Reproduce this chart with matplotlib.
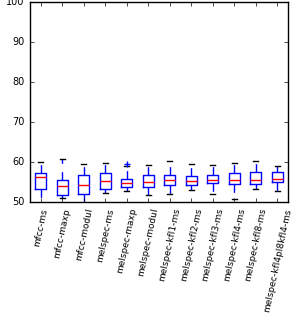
import matplotlib
matplotlib.use("Agg")
import matplotlib.pyplot as plt

plt.style.use("classic")

labels = ["mfcc-ms", "mfcc-maxp", "mfcc-modul", "melspec-ms", "melspec-maxp",
          "melspec-modul", "melspec-kfl1-ms", "melspec-kfl2-ms", "melspec-kfl3-ms",
          "melspec-kfl4-ms", "melspec-kfl8-ms", "melspec-kfl4pl8kfl4-ms"]

# box statistics (AUC, %)
whislo = [48.5, 51.0, 48.5, 52.2, 52.6, 51.7, 51.9, 53.0, 51.9, 50.8, 53.2, 52.7]
q1 = [53.2, 51.8, 52.0, 53.2, 53.7, 53.7, 54.2, 54.2, 54.6, 54.4, 54.4, 55.0]
med = [56.2, 53.9, 54.2, 55.2, 54.7, 54.9, 55.5, 55.2, 55.4, 55.4, 55.4, 55.8]
q3 = [57.3, 55.4, 56.8, 57.3, 55.8, 56.8, 56.8, 56.5, 56.7, 57.3, 57.6, 57.5]
whishi = [60.0, 60.8, 59.5, 59.7, 59.0, 59.3, 60.3, 59.5, 59.3, 59.7, 60.2, 59.1]
fliers = [[], [], [], [], [59.6], [], [], [], [], [], [], []]

stats = []
for i in range(len(labels)):
    stats.append({"label": labels[i], "whislo": whislo[i], "q1": q1[i], "med": med[i],
                  "q3": q3[i], "whishi": whishi[i], "fliers": fliers[i]})

fig = plt.figure(figsize=(2.93, 3.13), dpi=100, facecolor="white")
ax = fig.add_axes([0.1024, 0.355, 0.8806, 0.6386])

ax.bxp(stats, widths=0.5,
       boxprops=dict(color="b"),
       whiskerprops=dict(color="b", linestyle="--"),
       capprops=dict(color="k"),
       medianprops=dict(color="r"),
       flierprops=dict(marker="+", markeredgecolor="b", markersize=4))

ax.set_ylim(50, 100)
ax.set_xlim(0.5, 12.5)
ax.set_yticks([50, 60, 70, 80, 90, 100])
ax.tick_params(labelsize=7, length=3)
ax.set_xticklabels(labels, rotation=78, ha="center", fontsize=6.5)
ax.set_ylabel("AUC (%)", fontsize=7.5)

fig.savefig("out.png", dpi=100)
